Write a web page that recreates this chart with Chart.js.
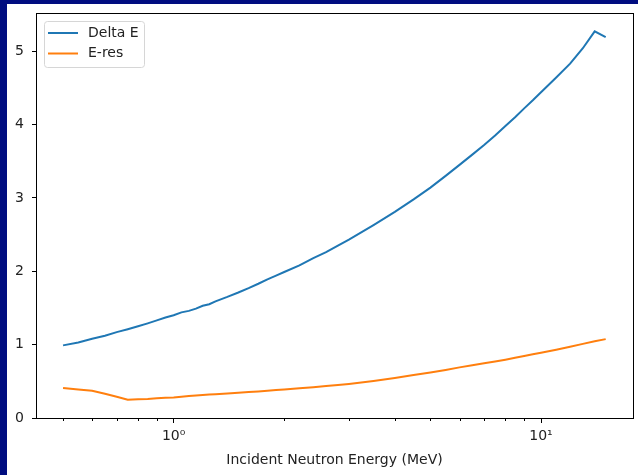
<!DOCTYPE html>
<html>
<head>
<meta charset="utf-8">
<script src="https://cdn.jsdelivr.net/npm/chart.js@4.4.1/dist/chart.umd.min.js"></script>
<style>
  html, body { margin: 0; padding: 0; background: #000d80; width: 638px; height: 475px; overflow: hidden; }
  #wrap { position: absolute; left: 7px; top: 4px; width: 631px; height: 471px; background: #fff; }
</style>
</head>
<body>
<div id="wrap"><canvas id="grafico" width="631" height="471"></canvas></div>
<script>
const energias = [0.5, 0.55, 0.6, 0.65, 0.7, 0.75, 0.8, 0.85, 0.9, 0.95, 1.0, 1.05, 1.1, 1.15, 1.2, 1.25, 1.3, 1.4, 1.5, 1.6, 1.7, 1.8, 1.9, 2.0, 2.2, 2.4, 2.6, 2.8, 3.0, 3.5, 4.0, 4.5, 5.0, 5.5, 6.0, 6.5, 7.0, 7.5, 8.0, 8.5, 9.0, 9.5, 10, 11, 12, 13, 14, 15];
const deltaE = [0.99, 1.03, 1.08, 1.12, 1.17, 1.21, 1.25, 1.29, 1.33, 1.37, 1.40, 1.44, 1.46, 1.49, 1.53, 1.55, 1.59, 1.65, 1.71, 1.77, 1.83, 1.89, 1.94, 1.99, 2.08, 2.18, 2.26, 2.35, 2.43, 2.63, 2.81, 2.98, 3.14, 3.30, 3.45, 3.59, 3.72, 3.85, 3.98, 4.10, 4.22, 4.33, 4.44, 4.64, 4.83, 5.04, 5.27, 5.19];
const eRes = [0.41, 0.39, 0.37, 0.33, 0.29, 0.25, 0.255, 0.26, 0.27, 0.275, 0.28, 0.29, 0.30, 0.307, 0.315, 0.32, 0.325, 0.335, 0.345, 0.355, 0.362, 0.37, 0.38, 0.39, 0.405, 0.42, 0.435, 0.45, 0.465, 0.505, 0.545, 0.585, 0.62, 0.655, 0.69, 0.72, 0.745, 0.77, 0.795, 0.82, 0.845, 0.87, 0.89, 0.93, 0.97, 1.01, 1.045, 1.075];
const etiquetas = ["Delta E", "E-res"];
const colores = ["#1f77b4", "#ff7f0e"];
const yTicks = [0, 1, 2, 3, 4, 5];
const xMayores = [1, 10];
const xEtiquetas = ["10⁰", "10¹"];
const xMenores = [0.5, 0.6, 0.7, 0.8, 0.9, 2, 3, 4, 5, 6, 7, 8, 9];

const fuente = "DejaVu Sans";

// marco, ticks menores y leyenda estilo matplotlib
const marcoPlugin = {
  id: "marco",
  afterDraw(chart) {
    const ctx = chart.ctx;
    const a = chart.chartArea;
    const x = chart.scales.x;
    ctx.save();
    ctx.strokeStyle = "#000";
    ctx.lineWidth = 1;
    ctx.strokeRect(Math.round(a.left) + 0.5, Math.round(a.top) + 0.5, Math.round(a.right - a.left), Math.round(a.bottom - a.top));
    xMenores.forEach(v => {
      const px = Math.round(x.getPixelForValue(v)) + 0.5;
      ctx.beginPath();
      ctx.moveTo(px, a.bottom);
      ctx.lineTo(px, a.bottom + 3);
      ctx.stroke();
    });
    // leyenda
    const lx = a.left + 8, ly = a.top + 8, lw = 100, lh = 46;
    ctx.fillStyle = "rgba(255,255,255,0.8)";
    ctx.strokeStyle = "#d6d6d6";
    ctx.beginPath();
    ctx.roundRect(lx + 0.5, ly + 0.5, lw, lh, 3);
    ctx.fill();
    ctx.stroke();
    ctx.font = "14px '" + fuente + "'";
    ctx.textBaseline = "middle";
    chart.data.datasets.forEach((ds, i) => {
      const yy = ly + 12 + i * 20.5;
      ctx.strokeStyle = ds.borderColor;
      ctx.lineWidth = 2;
      ctx.beginPath();
      ctx.moveTo(lx + 4, yy);
      ctx.lineTo(lx + 34, yy);
      ctx.stroke();
      ctx.fillStyle = "#222";
      ctx.fillText(ds.label, lx + 44, yy);
    });
    ctx.restore();
  }
};

new Chart(document.getElementById("grafico"), {
  type: "line",
  data: {
    datasets: [deltaE, eRes].map((serie, i) => ({
      label: etiquetas[i],
      data: energias.map((e, j) => ({ x: e, y: serie[j] })),
      borderColor: colores[i],
      borderWidth: 2,
      pointRadius: 0,
      tension: 0,
      fill: false
    }))
  },
  options: {
    responsive: false,
    animation: false,
    layout: { padding: { top: 9, right: 5, left: 0, bottom: 0 } },
    plugins: { legend: { display: false }, tooltip: { enabled: false } },
    scales: {
      x: {
        type: "logarithmic",
        min: 0.422,
        max: 17.8,
        afterBuildTicks(scale) { scale.ticks = xMayores.map(v => ({ value: v, major: true })); },
        afterFit(scale) { scale.height = 57; scale.paddingLeft = 0; scale.paddingRight = 0; },
        ticks: {
          autoSkip: false,
          maxRotation: 0,
          padding: 5,
          color: "#222",
          font: { family: fuente, size: 14 },
          callback: (v) => xEtiquetas[xMayores.indexOf(v)]
        },
        grid: { display: true, drawOnChartArea: false, drawTicks: true, tickLength: 5, color: "#000" },
        border: { display: true, color: "#000", width: 1 },
        title: {
          display: true,
          text: "Incident Neutron Energy (MeV)",
          color: "#222",
          font: { family: fuente, size: 14 },
          padding: { top: 4, bottom: 6 }
        }
      },
      y: {
        type: "linear",
        min: 0,
        max: 5.52,
        afterBuildTicks(scale) { scale.ticks = yTicks.map(v => ({ value: v })); },
        afterFit(scale) { scale.width = 29; scale.paddingTop = 0; scale.paddingBottom = 0; },
        ticks: {
          padding: 8,
          color: "#222",
          font: { family: fuente, size: 14 }
        },
        grid: { display: true, drawOnChartArea: false, drawTicks: true, tickLength: 4, color: "#000" },
        border: { display: true, color: "#000", width: 1 }
      }
    }
  },
  plugins: [marcoPlugin]
});
</script>
</body>
</html>
